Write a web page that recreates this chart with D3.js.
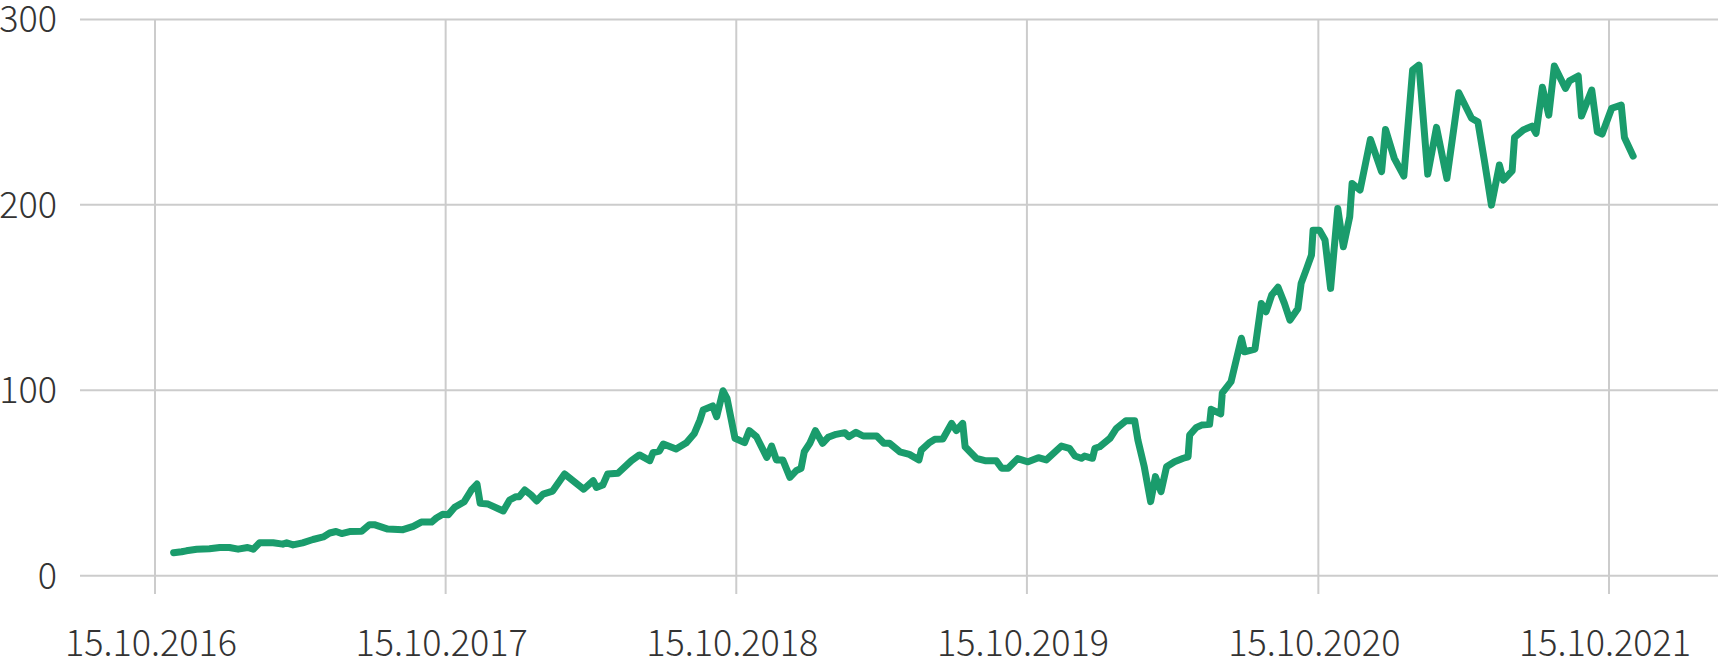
<!DOCTYPE html>
<html>
<head>
<meta charset="utf-8">
<script src="https://cdn.jsdelivr.net/npm/d3@7"></script>
<style>
  html, body { margin: 0; padding: 0; background: #fff; overflow: hidden; }
  svg { display: block; }
  .tick text { font-family: "Noto Sans CJK SC", "Noto Sans", sans-serif; font-weight: 300; font-size: 36px; fill: #333; }
</style>
</head>
<body>
<svg id="chart" width="1718" height="658"></svg>
<script>
const dates = [
  "2016-11-08","2016-11-18","2016-11-24","2016-12-07","2016-12-23","2017-01-05","2017-01-17","2017-01-28",
  "2017-02-09","2017-02-16","2017-02-24","2017-03-13","2017-03-25","2017-03-30","2017-04-07","2017-04-19",
  "2017-05-02","2017-05-15","2017-05-23","2017-05-31","2017-06-07","2017-06-17","2017-07-02","2017-07-12",
  "2017-07-18","2017-08-04","2017-08-23","2017-09-05","2017-09-15","2017-09-28","2017-10-04","2017-10-12",
  "2017-10-19","2017-10-27","2017-11-08","2017-11-17","2017-11-24","2017-11-28","2017-12-08","2017-12-27",
  "2018-01-04","2018-01-12","2018-01-16","2018-01-23","2018-01-31","2018-02-07","2018-02-15","2018-02-27",
  "2018-03-14","2018-03-25","2018-04-07","2018-04-19","2018-04-23","2018-05-01","2018-05-07","2018-05-20",
  "2018-06-06","2018-06-16","2018-06-29","2018-07-03","2018-07-11","2018-07-16","2018-08-01","2018-08-14",
  "2018-08-24","2018-08-31","2018-09-04","2018-09-16","2018-09-21","2018-09-29","2018-10-04","2018-10-14",
  "2018-10-26","2018-11-01","2018-11-10","2018-11-23","2018-11-29","2018-12-05","2018-12-13","2018-12-22",
  "2018-12-30","2019-01-05","2019-01-09","2019-01-16","2019-01-23","2019-02-01","2019-02-08","2019-02-18",
  "2019-03-01","2019-03-06","2019-03-15","2019-03-24","2019-04-10","2019-04-19","2019-04-26","2019-05-09",
  "2019-05-21","2019-06-02","2019-06-05","2019-06-15","2019-06-22","2019-07-02","2019-07-13","2019-07-19",
  "2019-07-27","2019-07-30","2019-08-13","2019-08-24","2019-09-07","2019-09-14","2019-09-22","2019-10-04",
  "2019-10-17","2019-10-30","2019-11-09","2019-11-28","2019-12-08","2019-12-15","2019-12-23","2019-12-27",
  "2020-01-06","2020-01-09","2020-01-15","2020-01-28","2020-02-05","2020-02-17","2020-02-28","2020-03-03",
  "2020-03-11","2020-03-19","2020-03-25","2020-04-01","2020-04-08","2020-04-18","2020-04-29","2020-05-05",
  "2020-05-07","2020-05-15","2020-05-22","2020-06-01","2020-06-03","2020-06-15","2020-06-17","2020-06-28",
  "2020-07-11","2020-07-15","2020-07-28","2020-08-05","2020-08-11","2020-08-18","2020-08-26","2020-09-03",
  "2020-09-10","2020-09-20","2020-09-24","2020-10-01","2020-10-07","2020-10-09","2020-10-17","2020-10-24",
  "2020-10-31","2020-11-09","2020-11-16","2020-11-24","2020-11-27","2020-12-07","2020-12-20","2021-01-03",
  "2021-01-08","2021-01-19","2021-01-31","2021-02-11","2021-02-19","2021-03-02","2021-03-13","2021-03-26",
  "2021-04-10","2021-04-26","2021-05-04","2021-05-12","2021-05-21","2021-05-31","2021-06-05","2021-06-16",
  "2021-06-19","2021-06-30","2021-07-11","2021-07-16","2021-07-24","2021-08-01","2021-08-08","2021-08-22",
  "2021-08-27","2021-09-07","2021-09-11","2021-09-24","2021-10-01","2021-10-07","2021-10-19","2021-10-31",
  "2021-11-04","2021-11-15"
];
const values = [
  12.2,12.7,13.2,14.0,14.3,15.0,15.0,14.1,
  15.0,14.1,17.5,17.5,16.8,17.5,16.4,17.5,
  19.3,20.7,22.8,23.6,22.5,23.6,23.7,27.3,
  27.3,24.9,24.6,26.4,28.7,28.7,30.9,32.9,
  32.7,36.7,39.7,46.0,49.2,38.8,38.4,34.7,
  40.6,42.4,42.4,46.0,43.3,40.1,43.8,45.4,
  54.6,50.8,46.4,51.0,47.4,48.7,54.6,55.0,
  61.8,64.9,61.8,66.1,67.0,70.8,68.1,71.5,
  76.5,83.7,89.1,91.3,85.5,99.5,95.4,73.9,
  71.5,78.0,74.7,63.6,69.7,62.2,62.2,52.8,
  56.4,57.7,66.6,71.2,78.0,71.2,74.4,76.0,
  76.9,74.7,77.1,75.1,75.1,71.2,71.2,66.6,
  65.2,62.2,67.5,71.5,73.3,73.5,81.9,78.0,
  81.9,69.3,63.1,61.8,61.8,57.7,57.7,62.9,
  61.2,63.4,62.2,69.7,68.5,64.3,63.1,64.3,
  63.1,68.5,69.3,73.9,79.2,83.3,83.3,72.9,
  58.5,39.7,53.2,45.1,58.5,61.2,63.1,63.9,
  75.6,79.6,81.0,81.4,89.5,87.0,98.4,104.4,
  127.8,120.5,122.0,146.6,142.1,151.1,155.3,146.6,
  137.6,143.9,157.4,165.5,172.7,186.1,186.1,180.8,
  154.7,197.8,177.1,193.3,211.3,207.7,235.0,217.6,
  240.4,224.8,215.3,272.4,275.1,216.3,241.5,214.0,
  260.2,246.4,244.5,223.9,199.6,221.2,213.1,218.1,
  236.1,240.1,242.2,238.3,263.1,248.1,274.6,262.5,
  266.6,269.2,247.6,261.6,239.1,237.9,251.8,253.5,
  236.1,226.0
];
const yTicks = [0, 100, 200, 300];
const xTickDates = ["2016-10-15","2017-10-15","2018-10-15","2019-10-15","2020-10-15","2021-10-15"];

const parse = d3.timeParse("%Y-%m-%d");
const data = dates.map((d, i) => ({ date: parse(d), value: values[i] }));

const svg = d3.select("#chart");
const W = 1718;
const gridLeft = 80, plotTop = 18.9, zeroY = 575.3, axisY = 594;

const x = d3.scaleTime()
  .domain([parse(xTickDates[0]), parse(xTickDates[xTickDates.length - 1])])
  .range([154.5, 1608.5]);
const y = d3.scaleLinear().domain([0, 300]).range([zeroY, plotTop]);

// Horizontal grid + y labels
const yAxis = svg.append("g")
  .attr("transform", `translate(${gridLeft},0)`)
  .call(d3.axisLeft(y).tickValues(yTicks).tickSize(-(W - gridLeft)).tickPadding(23).tickFormat(d3.format("d")));
yAxis.select(".domain").remove();
yAxis.selectAll(".tick line").attr("stroke", "#cccccc").attr("stroke-width", 2);
yAxis.selectAll(".tick text").attr("dy", "0.36em");

// Vertical grid + x labels
const xAxis = svg.append("g")
  .attr("transform", `translate(0,${axisY})`)
  .call(d3.axisBottom(x).tickValues(xTickDates.map(parse)).tickSize(-(axisY - plotTop)).tickFormat(d3.timeFormat("%d.%m.%Y")));
xAxis.select(".domain").remove();
xAxis.selectAll(".tick line").attr("stroke", "#cccccc").attr("stroke-width", 2);
xAxis.selectAll(".tick text").attr("y", 62).attr("dy", 0).attr("x", -4);

// Line
const line = d3.line().x(d => x(d.date)).y(d => y(d.value));
svg.append("path")
  .datum(data)
  .attr("fill", "none")
  .attr("stroke", "#1a9c6c")
  .attr("stroke-width", 7)
  .attr("stroke-linejoin", "round")
  .attr("stroke-linecap", "round")
  .attr("d", line);
</script>
</body>
</html>
